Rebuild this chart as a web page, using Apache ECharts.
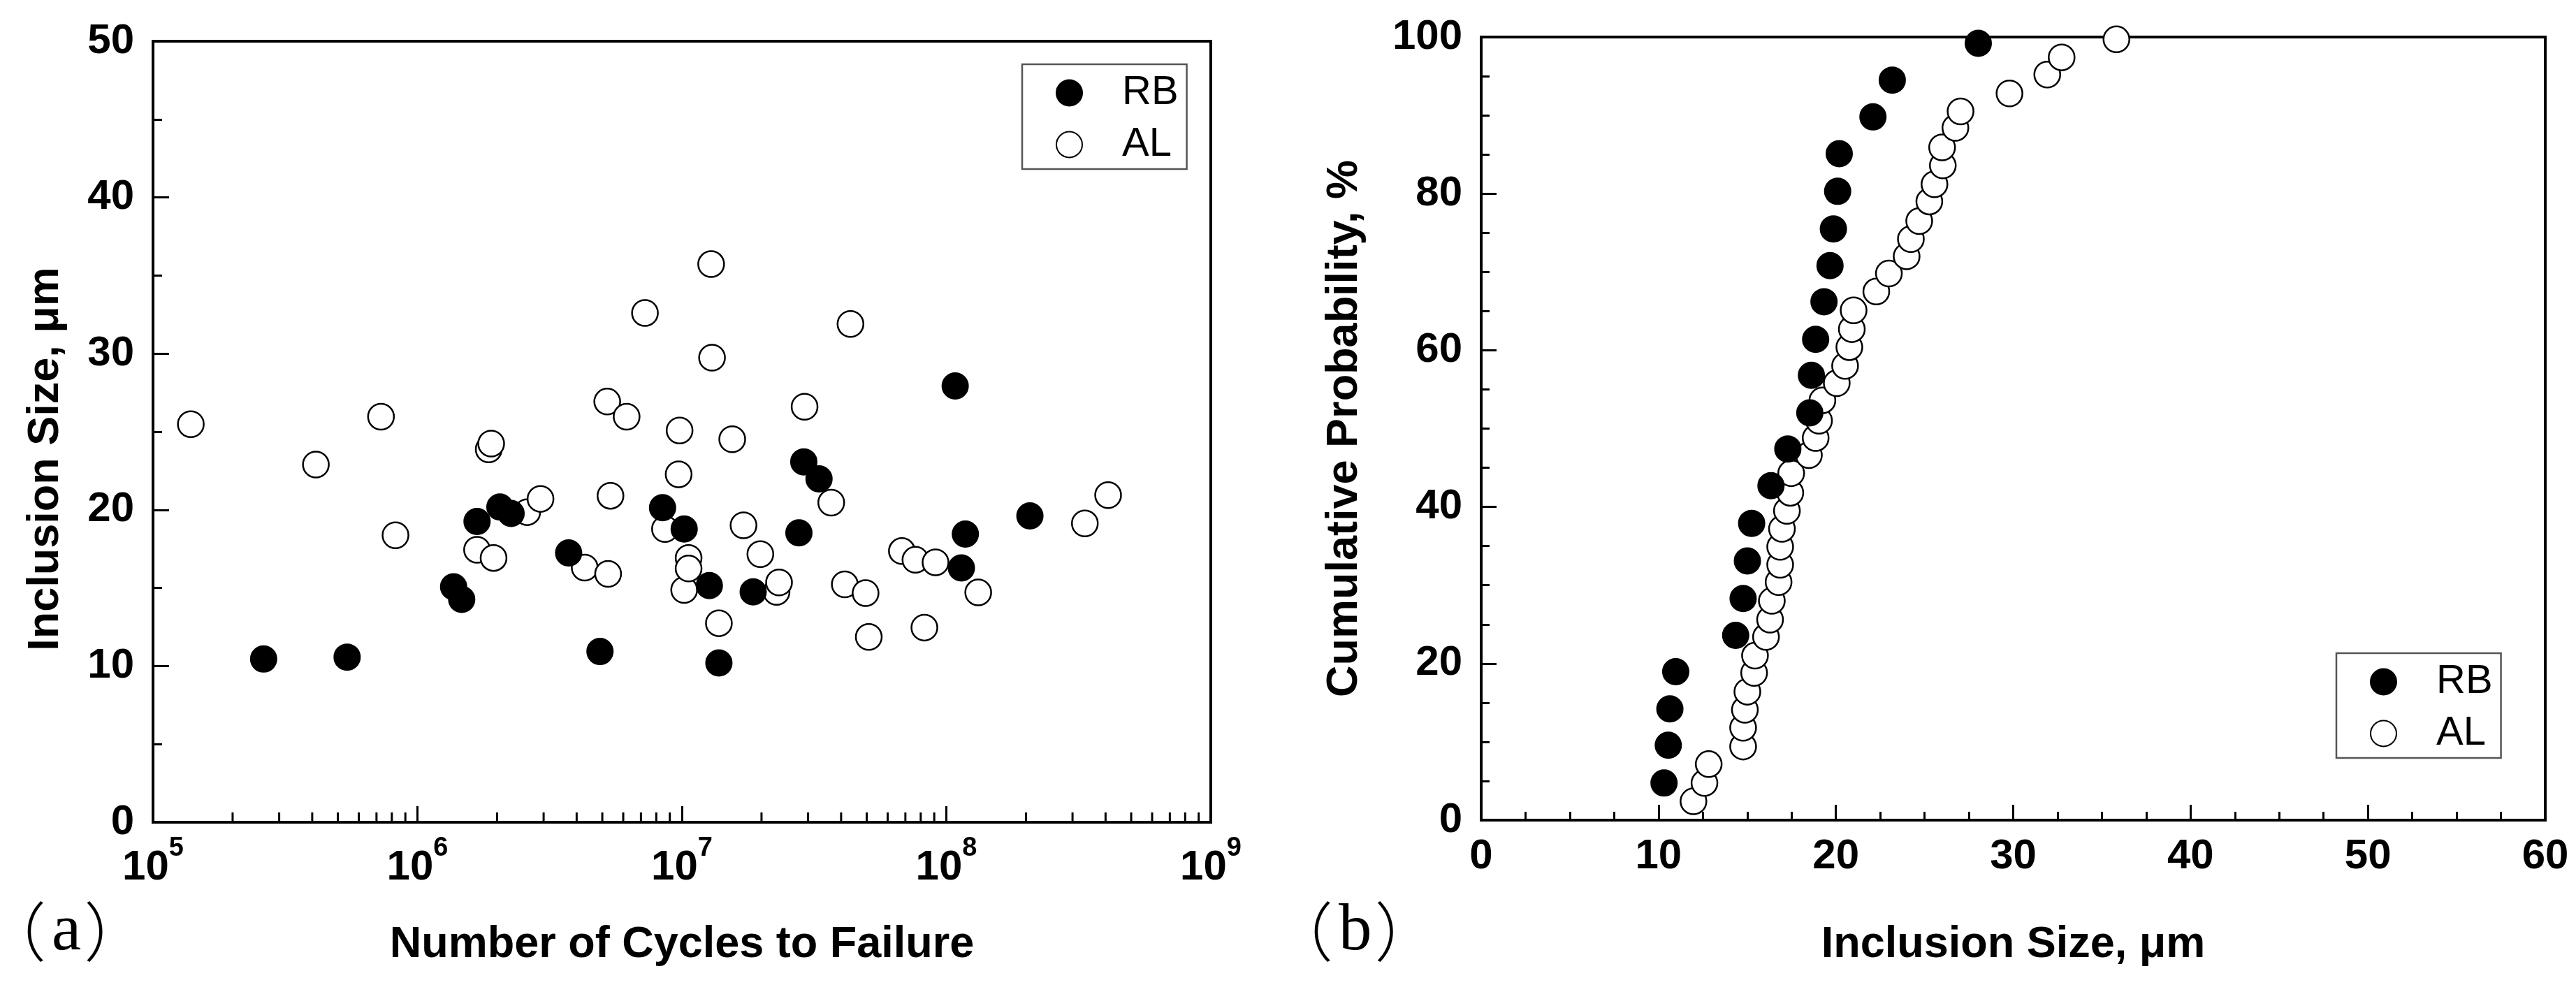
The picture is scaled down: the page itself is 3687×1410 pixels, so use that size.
<!DOCTYPE html>
<html>
<head>
<meta charset="utf-8">
<script src="https://cdn.jsdelivr.net/npm/echarts@6/dist/echarts.min.js"></script>
<style>
html,body{margin:0;padding:0;background:#fff;}
#chart{width:3687px;height:1410px;}
</style>
</head>
<body>
<div id="chart"></div>
<script>
// ---- Panel (a): inclusion size vs cycles to failure ----
const rbCycles = [2.62e5, 5.42e5, 1.37e6, 1.47e6, 1.68e6, 2.05e6, 2.26e6, 3.73e6, 4.90e6, 8.45e6, 1.02e7, 1.27e7, 1.38e7, 1.86e7, 2.77e7, 2.89e7, 3.30e7, 1.08e8, 1.14e8, 1.18e8, 2.07e8];
const rbSize   = [10.45, 10.57, 15.07, 14.27, 19.25, 20.18, 19.77, 17.24, 10.93, 20.14, 18.77, 15.15, 10.2, 14.75, 18.53, 23.07, 21.98, 27.93, 16.28, 18.45, 19.61];
const alCycles = [1.39e5, 4.13e5, 7.28e5, 8.26e5, 1.68e6, 1.86e6, 1.90e6, 1.94e6, 2.6e6, 2.92e6, 4.29e6, 5.22e6, 5.26e6, 5.37e6, 6.18e6, 7.25e6, 8.63e6, 9.72e6, 9.8e6, 1.02e7, 1.06e7, 1.06e7, 1.29e7, 1.30e7, 1.38e7, 1.55e7, 1.71e7, 1.98e7, 2.28e7, 2.33e7, 2.91e7, 3.67e7, 4.13e7, 4.34e7, 4.95e7, 5.09e7, 6.79e7, 7.64e7, 8.26e7, 9.1e7, 1.32e8, 3.34e8, 4.09e8];
const alSize   = [25.48, 22.9, 25.96, 18.37, 17.44, 23.87, 24.24, 16.92, 19.85, 20.7, 16.3, 26.93, 15.9, 20.9, 25.96, 32.6, 18.77, 22.27, 25.08, 14.87, 16.92, 16.24, 35.73, 29.74, 12.74, 24.52, 19.01, 17.16, 14.75, 15.35, 26.6, 20.46, 15.23, 31.9, 14.67, 11.86, 17.36, 16.8, 12.46, 16.64, 14.71, 19.13, 20.94];

// ---- Panel (b): cumulative probability vs inclusion size ----
const rbCumSize = [10.31, 10.55, 10.64, 10.97, 14.35, 14.77, 15.01, 15.25, 16.34, 17.29, 18.53, 18.62, 18.86, 19.33, 19.67, 19.86, 20.1, 20.19, 22.09, 23.18, 28.03];
const rbCumProb = [4.74, 9.56, 14.2, 18.96, 23.6, 28.3, 33.1, 37.9, 42.7, 47.4, 52.0, 56.8, 61.4, 66.2, 70.8, 75.5, 80.3, 85.1, 89.8, 94.5, 99.2];
const alCumSize = [11.97, 12.59, 12.83, 14.77, 14.77, 14.87, 15.01, 15.39, 15.44, 16.06, 16.29, 16.39, 16.77, 16.86, 16.86, 16.96, 17.24, 17.43, 17.48, 18.48, 18.86, 19.05, 19.24, 20.05, 20.52, 20.76, 20.9, 21.0, 22.28, 22.99, 23.99, 24.23, 24.7, 25.27, 25.56, 26.03, 25.99, 26.74, 27.03, 29.79, 31.92, 32.73, 35.82];
const alCumProb = [2.4, 4.74, 7.15, 9.4, 11.8, 14.1, 16.4, 18.8, 21.0, 23.4, 25.6, 28.0, 30.4, 32.6, 34.9, 37.2, 39.5, 41.8, 44.3, 46.6, 48.8, 51.0, 53.6, 55.8, 58.0, 60.4, 62.7, 65.1, 67.5, 69.8, 72.0, 74.2, 76.5, 79.0, 81.2, 83.6, 85.9, 88.4, 90.5, 92.8, 95.2, 97.4, 99.7];

// ---- Ticks / labels ----
const seriesNames = ['RB', 'AL'];
const logMinorTicks = [2e5,3e5,4e5,5e5,6e5,7e5,8e5,9e5, 2e6,3e6,4e6,5e6,6e6,7e6,8e6,9e6, 2e7,3e7,4e7,5e7,6e7,7e7,8e7,9e7, 2e8,3e8,4e8,5e8,6e8,7e8,8e8,9e8];
const panelLetters = ['a', 'b'];
const titles = {
  ax: 'Number of Cycles to Failure',
  ay: 'Inclusion Size, μm',
  bx: 'Inclusion Size, μm',
  by: 'Cumulative Probability, %'
};

const zip = (a, b) => a.map((v, i) => [v, b[i]]);
const FONT = '"Liberation Sans", Arial, sans-serif';

const axisCommon = {
  axisLine: { show: true, onZero: false, lineStyle: { color: '#000', width: 4 } },
  axisTick: { show: true, inside: true, length: 23, lineStyle: { color: '#000', width: 3 } },
  minorTick: { show: true, length: 13, lineStyle: { color: '#000', width: 3 } },
  splitLine: { show: false },
  minorSplitLine: { show: false },
  axisLabel: { color: '#000', fontSize: 60, fontWeight: 'bold', fontFamily: FONT },
  nameLocation: 'middle',
  nameTextStyle: { color: '#000', fontSize: 63, fontWeight: 'bold', fontFamily: FONT }
};
function ax(extra) {
  const o = JSON.parse(JSON.stringify(axisCommon));
  for (const k in extra) {
    if (typeof extra[k] === 'object' && !Array.isArray(extra[k]) && o[k]) Object.assign(o[k], extra[k]);
    else o[k] = extra[k];
  }
  return o;
}

const scatterStyle = {
  RB: { color: '#000', borderColor: '#000', borderWidth: 2, opacity: 1 },
  AL: { color: '#fff', borderColor: '#000', borderWidth: 2.5, opacity: 1 }
};

const legendCommon = {
  orient: 'vertical',
  data: seriesNames,
  itemWidth: 37, itemHeight: 37, itemGap: 12,
  padding: [10, 12, 4, 48],
  borderColor: '#555', borderWidth: 2.5, backgroundColor: '#fff',
  textStyle: { color: '#000', fontSize: 58, fontFamily: FONT, lineHeight: 62, padding: [0, 0, 0, 52] },
  selectedMode: false
};

const chart = echarts.init(document.getElementById('chart'), null, { renderer: 'canvas' });

const xA = ax({
  type: 'log', logBase: 10, min: 1e5, max: 1e9, gridIndex: 0,
  name: titles.ax, nameGap: 144,
  minorTick: { show: false },
  axisLabel: {
    margin: 19,
    formatter: v => '{b|10}{s|' + Math.round(Math.log10(v)) + '}',
    rich: {
      b: { fontSize: 60, fontWeight: 'bold', fontFamily: FONT, color: '#000', lineHeight: 92, verticalAlign: 'middle' },
      s: { fontSize: 38, fontWeight: 'bold', fontFamily: FONT, color: '#000', lineHeight: 38, verticalAlign: 'top' }
    }
  }
});
const yA = ax({
  type: 'value', min: 0, max: 50, interval: 10, gridIndex: 0,
  name: titles.ay, nameGap: 122,
  nameTextStyle: { padding: [0, 78, 0, 0] },
  minorTick: { splitNumber: 2 },
  axisLabel: { margin: 27 }
});
const xB = ax({
  type: 'value', min: 0, max: 60, interval: 10, gridIndex: 1,
  name: titles.bx, nameGap: 147,
  axisTick: { length: 22 },
  minorTick: { splitNumber: 4, length: 12 },
  axisLabel: { margin: 22 }
});
const yB = ax({
  type: 'value', min: 0, max: 100, interval: 20, gridIndex: 1,
  name: titles.by, nameGap: 164,
  axisTick: { length: 22 },
  minorTick: { splitNumber: 4, length: 12 },
  axisLabel: { margin: 27 }
});

const panelRich = {
  p: { fontFamily: '"Noto Sans CJK SC", "Noto Sans CJK JP", sans-serif', fontWeight: 300, fontSize: 92, lineHeight: 100, color: '#000' },
  l: { fontFamily: '"Liberation Serif", serif', fontSize: 95, lineHeight: 100, color: '#000', padding: [0, 4, 0, 8] }
};
function panelLabel(letter, x) {
  return {
    type: 'text', x: x, y: 1334,
    style: {
      text: '{p|（}{l|' + letter + '}{p|）}',
      rich: panelRich,
      verticalAlign: 'middle', align: 'left'
    }
  };
}

const option = {
  backgroundColor: '#fff',
  animation: false,
  grid: [
    { left: 219, top: 59, width: 1514, height: 1118, show: true, borderColor: '#000', borderWidth: 4, backgroundColor: 'transparent' },
    { left: 2120, top: 53, width: 1523, height: 1121, show: true, borderColor: '#000', borderWidth: 4, backgroundColor: 'transparent' }
  ],
  xAxis: [xA, xB],
  yAxis: [yA, yB],
  legend: [
    Object.assign({}, legendCommon, { left: 1463, top: 92 }),
    Object.assign({}, legendCommon, { left: 3344, top: 935 })
  ],
  graphic: [panelLabel(panelLetters[0], -26), panelLabel(panelLetters[1], 1816)],
  series: [
    {
      name: 'logMinorTicks', type: 'custom', xAxisIndex: 0, yAxisIndex: 0, silent: true, clip: false,
      data: logMinorTicks.map(v => [v, 0]),
      renderItem: (params, api) => {
        const p = api.coord([api.value(0), 0]);
        return { type: 'line', shape: { x1: p[0], y1: p[1], x2: p[0], y2: p[1] - 14 }, style: { stroke: '#000', lineWidth: 3 } };
      }
    },
    { name: 'AL', type: 'scatter', xAxisIndex: 0, yAxisIndex: 0, symbol: 'circle', symbolSize: 37, itemStyle: scatterStyle.AL, data: zip(alCycles, alSize), z: 3 },
    { name: 'RB', type: 'scatter', xAxisIndex: 0, yAxisIndex: 0, symbol: 'circle', symbolSize: 37, itemStyle: scatterStyle.RB, data: zip(rbCycles, rbSize), z: 4 },
    { name: 'RB', type: 'scatter', xAxisIndex: 1, yAxisIndex: 1, symbol: 'circle', symbolSize: 37, itemStyle: scatterStyle.RB, data: zip(rbCumSize, rbCumProb), z: 4 },
    { name: 'AL', type: 'scatter', xAxisIndex: 1, yAxisIndex: 1, symbol: 'circle', symbolSize: 37, itemStyle: scatterStyle.AL, data: zip(alCumSize, alCumProb), z: 3 }
  ]
};
chart.setOption(option);
</script>
</body>
</html>
